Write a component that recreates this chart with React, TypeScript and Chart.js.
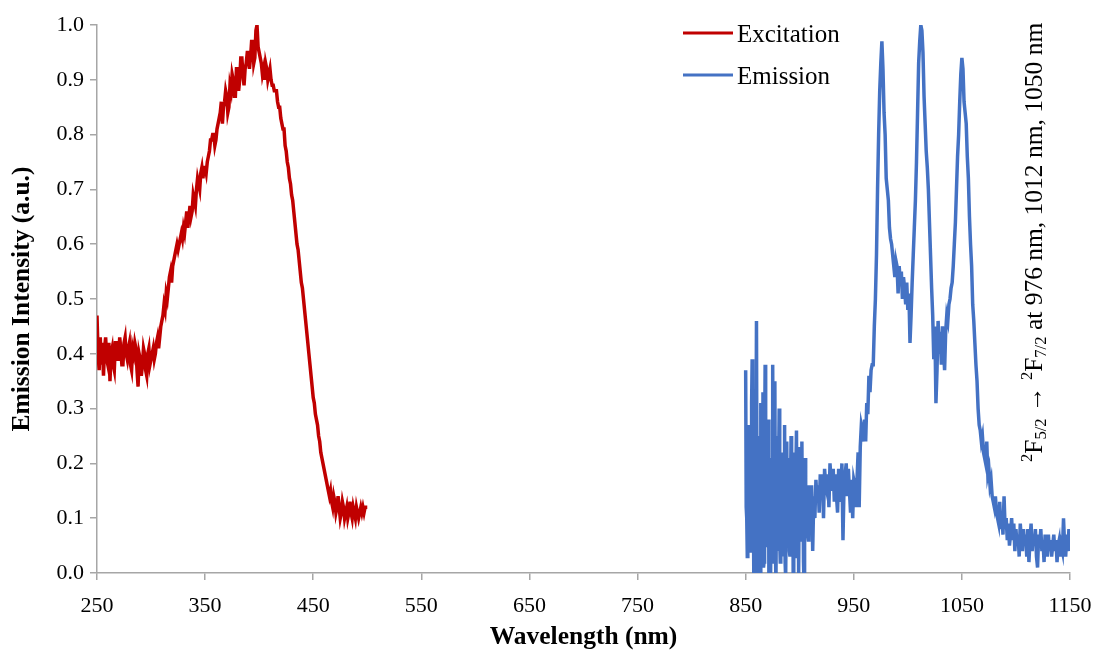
import React, { useEffect, useRef } from "react";
import { Chart, registerables } from "chart.js";

Chart.register(...registerables);

// Excitation spectrum: 250–500 nm, 1 nm step
const excitationStart = 250;
const excitationStep = 1;
const excitationValues = [
  0.47, 0.40, 0.37, 0.43, 0.38, 0.42, 0.36, 0.41, 0.43, 0.39,
  0.38, 0.42, 0.35, 0.40, 0.41, 0.38, 0.37, 0.42, 0.42, 0.39,
  0.39, 0.43, 0.41, 0.38, 0.38, 0.42, 0.43, 0.40, 0.39, 0.41,
  0.42, 0.38, 0.37, 0.41, 0.40, 0.42, 0.41, 0.37, 0.34, 0.40,
  0.39, 0.36, 0.38, 0.41, 0.40, 0.37, 0.36, 0.40, 0.41, 0.38,
  0.39, 0.40, 0.41, 0.39, 0.40, 0.42, 0.43, 0.41, 0.43, 0.45,
  0.46, 0.47, 0.49, 0.48, 0.51, 0.50, 0.52, 0.54, 0.55, 0.53,
  0.56, 0.57, 0.58, 0.59, 0.60, 0.59, 0.60, 0.61, 0.62, 0.61,
  0.63, 0.62, 0.64, 0.66, 0.63, 0.65, 0.67, 0.65, 0.66, 0.69,
  0.68, 0.67, 0.70, 0.72, 0.71, 0.70, 0.73, 0.74, 0.72, 0.74,
  0.74, 0.73, 0.75, 0.76, 0.77, 0.79, 0.79, 0.80, 0.80, 0.78,
  0.79, 0.81, 0.82, 0.83, 0.84, 0.86, 0.82, 0.85, 0.86, 0.88,
  0.87, 0.84, 0.85, 0.89, 0.88, 0.91, 0.90, 0.87, 0.87, 0.92,
  0.92, 0.88, 0.90, 0.94, 0.94, 0.91, 0.89, 0.92, 0.93, 0.95,
  0.95, 0.92, 0.94, 0.97, 0.97, 0.93, 0.94, 0.99, 1.00, 0.96,
  0.95, 0.94, 0.93, 0.91, 0.92, 0.90, 0.93, 0.92, 0.90, 0.91,
  0.92, 0.90, 0.89, 0.89, 0.88, 0.88, 0.88, 0.86, 0.85, 0.85,
  0.83, 0.82, 0.81, 0.81, 0.78, 0.77, 0.75, 0.74, 0.72, 0.71,
  0.69, 0.68, 0.66, 0.64, 0.62, 0.60, 0.59, 0.57, 0.55, 0.53,
  0.52, 0.50, 0.48, 0.46, 0.44, 0.42, 0.40, 0.38, 0.36, 0.34,
  0.32, 0.31, 0.29, 0.28, 0.27, 0.25, 0.24, 0.22, 0.21, 0.20,
  0.19, 0.18, 0.17, 0.16, 0.15, 0.14, 0.15, 0.13, 0.12, 0.14,
  0.13, 0.11, 0.12, 0.14, 0.12, 0.10, 0.11, 0.13, 0.12, 0.10,
  0.11, 0.12, 0.10, 0.11, 0.13, 0.11, 0.10, 0.12, 0.11, 0.10,
  0.12, 0.11, 0.10, 0.11, 0.12, 0.11, 0.12, 0.11, 0.12, 0.12,
  0.12,
];

// Emission spectrum, noisy onset: 850–909.5 nm, 0.5 nm step
const emissionNoisyStart = 850;
const emissionNoisyStep = 0.5;
const emissionNoisyValues = [
  0.37, 0.12, 0.10, 0.03, 0.08, 0.22, 0.27, 0.06, 0.20, 0.12,
  0.04, 0.31, 0.39, 0.05, 0.18, 0.00, 0.30, 0.10, -0.02, 0.20,
  0.46, 0.10, 0.00, 0.18, 0.25, -0.03, 0.12, -0.03, 0.31, 0.05,
  0.12, 0.28, 0.33, 0.01, 0.02, 0.22, 0.38, 0.08, 0.15, 0.06,
  0.05, 0.18, 0.28, -0.02, 0.17, 0.10, -0.03, 0.14, 0.21, 0.02,
  0.38, 0.12, 0.08, 0.30, 0.35, 0.05, -0.02, 0.16, 0.25, 0.04,
  0.12, 0.20, 0.30, 0.06, 0.02, 0.14, 0.22, 0.03, 0.18, 0.10,
  0.05, 0.15, 0.27, 0.02, -0.01, 0.12, 0.24, 0.08, 0.10, 0.21,
  0.19, 0.04, 0.03, 0.16, 0.25, 0.07, 0.15, 0.22, -0.02, 0.05,
  0.22, 0.12, 0.06, 0.19, 0.26, 0.03, 0.12, 0.18, 0.00, 0.14,
  0.23, 0.06, 0.08, 0.17, 0.24, 0.10, 0.15, 0.02, -0.02, 0.13,
  0.21, 0.08, 0.12, 0.16, 0.14, 0.07, 0.06, 0.15, 0.16, 0.11,
];

// Emission spectrum: 910–1150 nm, 1 nm step
const emissionStart = 910;
const emissionStep = 1;
const emissionValues = [
  0.09, 0.16, 0.04, 0.14, 0.10, 0.17, 0.13, 0.16, 0.11, 0.18,
  0.14, 0.18, 0.10, 0.19, 0.16, 0.15, 0.18, 0.12, 0.20, 0.17,
  0.15, 0.19, 0.13, 0.18, 0.14, 0.11, 0.19, 0.15, 0.13, 0.20,
  0.06, 0.16, 0.18, 0.20, 0.14, 0.19, 0.15, 0.11, 0.17, 0.10,
  0.17, 0.16, 0.12, 0.17, 0.22, 0.12, 0.23, 0.27, 0.26, 0.24,
  0.28, 0.24, 0.31, 0.29, 0.36, 0.33, 0.37, 0.38, 0.38, 0.45,
  0.50, 0.58, 0.70, 0.80, 0.88, 0.93, 0.97, 0.92, 0.84, 0.80,
  0.72, 0.70, 0.68, 0.63, 0.61, 0.60, 0.58, 0.56, 0.54, 0.57,
  0.56, 0.51, 0.56, 0.53, 0.55, 0.50, 0.54, 0.52, 0.49, 0.53,
  0.48, 0.51, 0.42, 0.47, 0.53, 0.58, 0.63, 0.68, 0.75, 0.84,
  0.93, 0.97, 1.00, 0.99, 0.95, 0.87, 0.82, 0.77, 0.74, 0.70,
  0.64, 0.58, 0.52, 0.47, 0.39, 0.45, 0.31, 0.37, 0.46, 0.40,
  0.44, 0.38, 0.45, 0.41, 0.37, 0.44, 0.47, 0.46, 0.49, 0.50,
  0.52, 0.53, 0.56, 0.60, 0.64, 0.70, 0.76, 0.80, 0.86, 0.91,
  0.94, 0.92, 0.86, 0.84, 0.82, 0.76, 0.72, 0.65, 0.60, 0.56,
  0.49, 0.46, 0.42, 0.38, 0.35, 0.30, 0.27, 0.26, 0.24, 0.25,
  0.22, 0.21, 0.20, 0.24, 0.18, 0.19, 0.16, 0.17, 0.14, 0.13,
  0.12, 0.14, 0.11, 0.10, 0.09, 0.13, 0.08, 0.11, 0.07, 0.14,
  0.08, 0.10, 0.06, 0.09, 0.05, 0.07, 0.10, 0.06, 0.09, 0.04,
  0.08, 0.05, 0.07, 0.03, 0.09, 0.06, 0.04, 0.08, 0.05, 0.07,
  0.03, 0.08, 0.02, 0.06, 0.09, 0.04, 0.07, 0.05, 0.08, 0.03,
  0.01, 0.07, 0.05, 0.08, 0.04, 0.06, 0.02, 0.07, 0.05, 0.03,
  0.07, 0.04, 0.06, 0.03, 0.05, 0.07, 0.04, 0.06, 0.02, 0.05,
  0.06, 0.03, 0.05, 0.04, 0.10, 0.05, 0.03, 0.07, 0.04, 0.08,
  0.04,
];

const xTicks = [250, 350, 450, 550, 650, 750, 850, 950, 1050, 1150];
const yTicks = [0, 0.1, 0.2, 0.3, 0.4, 0.5, 0.6, 0.7, 0.8, 0.9, 1.0];

const seriesLabels = ["Excitation", "Emission"];
const seriesColors = ["#C00000", "#4472C4"];

const xTitle = "Wavelength (nm)";
const yTitle = "Emission Intensity (a.u.)";

// Annotation pieces: [text, kind]
const annotationParts: [string, string][] = [
  ["2", "sup"],
  ["F", "n"],
  ["5/2", "sub"],
  [" \u2192 ", "n"],
  ["2", "sup"],
  ["F", "n"],
  ["7/2", "sub"],
  [" at 976 nm, 1012 nm, 1050 nm", "n"],
];

const SERIF = "'Liberation Serif', 'Times New Roman', 'DejaVu Serif', serif";

function toPoints(start: number, step: number, values: number[]) {
  return values.map((v, i) => ({ x: start + i * step, y: v }));
}

const overlayPlugin = {
  id: "overlay",
  afterDraw(chart: any) {
    const ctx = chart.ctx as CanvasRenderingContext2D;
    ctx.save();
    // Legend
    const legendRows = [42, 84];
    seriesLabels.forEach((label, i) => {
      const yb = legendRows[i];
      ctx.strokeStyle = seriesColors[i];
      ctx.lineWidth = 3;
      ctx.beginPath();
      ctx.moveTo(683, yb - 9);
      ctx.lineTo(733, yb - 9);
      ctx.stroke();
      ctx.fillStyle = "#000";
      ctx.font = `25px ${SERIF}`;
      ctx.textBaseline = "alphabetic";
      ctx.textAlign = "left";
      ctx.fillText(label, 737, yb);
    });

    // Rotated annotation
    ctx.translate(1042, 462);
    ctx.rotate(-Math.PI / 2);
    const base = 25.5;
    let x = 0;
    ctx.fillStyle = "#000";
    ctx.textBaseline = "alphabetic";
    ctx.textAlign = "left";
    for (const [text, kind] of annotationParts) {
      let size = base;
      let dy = 0;
      if (kind === "sup") {
        size = base * 0.65;
        dy = -base * 0.38;
      } else if (kind === "sub") {
        size = base * 0.65;
        dy = base * 0.14;
      }
      ctx.font = `${size}px ${SERIF}`;
      ctx.fillText(text, x, dy);
      x += ctx.measureText(text).width;
    }
    ctx.restore();
  },
};

export default function App() {
  const canvasRef = useRef<HTMLCanvasElement | null>(null);

  useEffect(() => {
    if (!canvasRef.current) return;
    const emissionPoints = [
      ...toPoints(emissionNoisyStart, emissionNoisyStep, emissionNoisyValues),
      ...toPoints(emissionStart, emissionStep, emissionValues),
    ];
    const chart = new Chart(canvasRef.current, {
      type: "line",
      data: {
        datasets: [
          {
            label: seriesLabels[0],
            data: toPoints(excitationStart, excitationStep, excitationValues),
            borderColor: seriesColors[0],
            backgroundColor: seriesColors[0],
            borderWidth: 3.5,
            pointRadius: 0,
            tension: 0,
          },
          {
            label: seriesLabels[1],
            data: emissionPoints,
            borderColor: seriesColors[1],
            backgroundColor: seriesColors[1],
            borderWidth: 3.5,
            pointRadius: 0,
            tension: 0,
          },
        ],
      },
      options: {
        animation: false,
        responsive: false,
        devicePixelRatio: 1,
        layout: { padding: { left: 0, top: 25, right: 29, bottom: 0 } },
        plugins: {
          legend: { display: false },
          tooltip: { enabled: false },
        },
        scales: {
          x: {
            type: "linear",
            min: 250,
            max: 1150,
            afterBuildTicks: (scale: any) => {
              scale.ticks = xTicks.map((v) => ({ value: v }));
            },
            afterFit: (scale: any) => {
              scale.height = 82;
              scale.paddingLeft = 0;
              scale.paddingRight = 0;
            },
            ticks: {
              color: "#000",
              font: { family: SERIF, size: 22 },
              padding: 13,
              maxRotation: 0,
              autoSkip: false,
              callback: (v: any) => String(v),
            },
            grid: {
              drawOnChartArea: false,
              drawTicks: true,
              tickLength: 7,
              color: "#a6a6a6",
              lineWidth: 1.5,
            },
            border: { color: "#a6a6a6", width: 1.5 },
            title: {
              display: true,
              text: xTitle,
              color: "#000",
              font: { family: SERIF, size: 25.5, weight: "bold" },
              padding: { top: 0, bottom: 2 },
            },
          },
          y: {
            type: "linear",
            min: 0,
            max: 1,
            afterBuildTicks: (scale: any) => {
              scale.ticks = yTicks.map((v) => ({ value: v }));
            },
            afterFit: (scale: any) => {
              scale.width = 97;
            },
            ticks: {
              color: "#000",
              font: { family: SERIF, size: 22 },
              padding: 6,
              autoSkip: false,
              callback: (v: any) => Number(v).toFixed(1),
            },
            grid: {
              drawOnChartArea: false,
              drawTicks: true,
              tickLength: 7,
              color: "#a6a6a6",
              lineWidth: 1.5,
            },
            border: { color: "#a6a6a6", width: 1.5 },
            title: {
              display: true,
              text: yTitle,
              color: "#000",
              font: { family: SERIF, size: 25.5, weight: "bold" },
              padding: { top: 7, bottom: 0 },
            },
          },
        },
      },
      plugins: [overlayPlugin],
    });
    return () => chart.destroy();
  }, []);

  return (
    <div style={{ position: "absolute", left: 0, top: 0, width: 1099, height: 655, background: "#fff" }}>
      <canvas ref={canvasRef} width={1099} height={655} style={{ display: "block" }} />
    </div>
  );
}
